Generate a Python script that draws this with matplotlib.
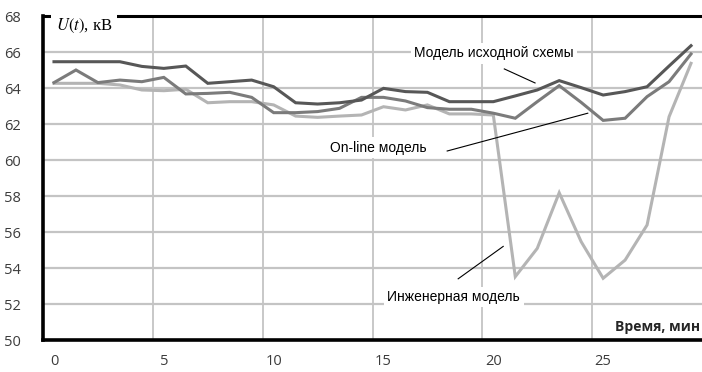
import matplotlib
matplotlib.use("Agg")
import matplotlib.pyplot as plt
import numpy as np

# Time in minutes (one sample per minute)
minutes = list(range(30))

# Voltage U(t), kV, for the three models
base_model = [65.46, 65.46, 65.46, 65.46, 65.2, 65.09, 65.22, 64.26, 64.35, 64.44,
              64.07, 63.18, 63.11, 63.18, 63.33, 63.98, 63.8, 63.76, 63.24, 63.24,
              63.24, 63.56, 63.89, 64.41, 64.02, 63.61, 63.8, 64.07, 65.22, 66.35]
online_model = [64.3, 65.0, 64.3, 64.44, 64.35, 64.59, 63.67, 63.7, 63.76, 63.48,
                62.63, 62.63, 62.69, 62.87, 63.48, 63.48, 63.28, 62.91, 62.82, 62.82,
                62.6, 62.32, 63.24, 64.13, 63.2, 62.2, 62.32, 63.52, 64.35, 65.89]
eng_model = [64.26, 64.26, 64.26, 64.17, 63.89, 63.85, 63.93, 63.18, 63.24, 63.24,
             63.06, 62.44, 62.37, 62.44, 62.5, 62.96, 62.78, 63.06, 62.56, 62.56,
             62.5, 53.52, 55.09, 58.18, 55.46, 53.43, 54.44, 56.39, 62.4, 65.37]

y_ticks = [50, 52, 54, 56, 58, 60, 62, 64, 66, 68]
x_ticks = [0, 5, 10, 15, 20, 25]

fig = plt.figure(figsize=(7.02, 3.72), dpi=100)
ax = fig.add_axes([43 / 702, 32 / 372, 659 / 702, 324 / 372])

grid_c = "#c4c4c4"
ax.plot(minutes, eng_model, color="#b4b4b4", lw=2.2, zorder=3, solid_joinstyle="miter")
ax.plot(minutes, online_model, color="#7b7b7b", lw=2.2, zorder=3.1, solid_joinstyle="miter")
ax.plot(minutes, base_model, color="#575757", lw=2.2, zorder=3.2, solid_joinstyle="miter")

ax.set_xlim(-0.5, 29.5)
ax.set_ylim(50, 68)
ax.set_yticks(y_ticks)
ax.set_xticks(x_ticks)
ax.set_xticks(np.arange(4.5, 29.5, 5), minor=True)
ax.tick_params(axis="both", which="both", length=0)
ax.tick_params(axis="y", pad=16, labelsize=10.5, labelcolor="#3c3c3c")
ax.tick_params(axis="x", pad=10, labelsize=10.5, labelcolor="#3c3c3c")
for lab in ax.get_xticklabels() + ax.get_yticklabels():
    lab.set_fontfamily("Open Sans")

ax.grid(axis="y", which="major", color=grid_c, lw=1.6, zorder=1)
ax.grid(axis="x", which="minor", color=grid_c, lw=1.3, zorder=1)
ax.set_axisbelow(True)

for side in ("left", "bottom"):
    ax.spines[side].set_linewidth(2.6)
    ax.spines[side].set_color("black")
ax.spines["top"].set_linewidth(2.2)
ax.spines["top"].set_color("black")
ax.spines["right"].set_visible(False)

box = dict(facecolor="white", edgecolor="none", pad=2.5)
txt_kw = dict(fontsize=10, family="Liberation Sans", color="black", zorder=5)

ax.text(16.4, 65.94, "Модель исходной схемы", ha="left", va="center", bbox=box, **txt_kw)
ax.text(12.55, 60.67, "On-line модель", ha="left", va="center", bbox=box, **txt_kw)
ax.text(15.18, 52.39, "Инженерная модель", ha="left", va="center", bbox=box, **txt_kw)
ax.text(29.4, 50.75, "Время, мин", ha="right", va="center", fontsize=10,
        family="Open Sans", fontweight="bold", color="#262626", zorder=5,
        bbox=dict(facecolor="white", edgecolor="none", pad=1.5))

plt.rcParams["mathtext.fontset"] = "stix"
ax.text(0.08, 67.45, r"$U\left(t\right)$, кВ", ha="left", va="center", fontsize=12,
        family="Liberation Serif", color="black", zorder=6, clip_on=False,
        bbox=dict(facecolor="white", edgecolor="none", pad=3.5))

# Leader lines from the labels to their curves
leader = dict(color="black", lw=0.8, zorder=4)
ax.plot([20.5, 21.9], [65.06, 64.28], **leader)
ax.plot([17.9, 24.3], [60.5, 62.6], **leader)
ax.plot([18.4, 20.45], [53.4, 55.2], **leader)

fig.savefig("out.png", dpi=100)
